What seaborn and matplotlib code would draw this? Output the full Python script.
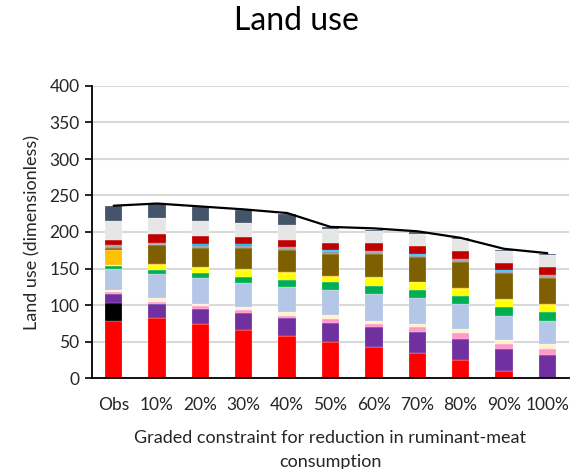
import numpy as np
import seaborn as sns
import matplotlib.pyplot as plt

# Categories (graded constraint)
categories = ['Obs', '10%', '20%', '30%', '40%', '50%', '60%', '70%', '80%', '90%', '100%']

# Stacked components, bottom to top
red = [78, 82.5, 74.5, 66, 58, 50, 42, 34, 25, 9, 0]
black = [24.5, 0, 0, 0, 0, 0, 0, 0, 0, 0, 0]
purple = [12.5, 18.5, 19.5, 22.5, 24, 26, 27.5, 29.5, 29, 30.5, 32]
pink = [2.5, 3, 4.5, 4.5, 3.5, 4.5, 4, 6, 7, 6.5, 7.5]
cream = [3, 5, 3.5, 4.5, 5.5, 5.5, 4.5, 4.5, 6.5, 6, 7]
lightblue = [28.5, 33, 35, 32.5, 33, 34.5, 37.5, 35, 33.5, 33.5, 31.5]
green = [4, 6, 7, 9, 10, 10.5, 10.5, 11.5, 11.5, 11.5, 13]
yellow = [2, 7, 7, 9.5, 10.5, 7.5, 11, 10.5, 9.5, 10, 9]
gold = [21, 1, 1, 1, 1, 1, 1, 1, 1, 1, 1]
brown = [2, 26, 26.5, 28.5, 29.5, 31, 32.5, 33.5, 36, 35.5, 36]
gray = [2.5, 1.5, 2.5, 3, 2.5, 3, 2, 2.5, 2.5, 2.5, 2.5]
cyan = [1.5, 2, 2, 2, 1.5, 1.5, 1.5, 2.5, 1.5, 1.5, 2]
darkred = [6.5, 11.5, 11, 10, 10, 10.5, 11, 10, 11, 10, 10.5]
lightgray = [26.5, 22, 20.5, 20, 20, 18, 16, 17, 16, 16.5, 16]
slate = [21, 19, 19.5, 17, 16, 3, 2, 2, 2, 2, 2.5]

# Total line
totals = [236, 239, 235, 231, 226, 207, 205, 201, 192, 177, 171]

layers = [
    (red, '#FF0000'), (black, '#000000'), (purple, '#7030A0'),
    (pink, '#FF99CC'), (cream, '#FFF2CC'), (lightblue, '#B4C7E7'),
    (green, '#00B050'), (yellow, '#FFFF00'), (gold, '#FFC000'),
    (brown, '#7F6000'), (gray, '#8C9BAA'), (cyan, '#00B0F0'),
    (darkred, '#C00000'), (lightgray, '#E7E6E6'), (slate, '#44546A'),
]

sns.set_theme(style="whitegrid")
plt.rcParams['font.family'] = ['Lato', 'DejaVu Sans']

fig = plt.figure(figsize=(5.7, 4.69), dpi=100)
ax = fig.add_axes([92 / 570, 1 - 378 / 469, (569 - 92) / 570, (378 - 86) / 469])

base = np.zeros(len(categories))
for vals, col in layers:
    sns.barplot(x=categories, y=vals, bottom=base, color=col, saturation=1,
                width=0.4, edgecolor='white', linewidth=0.15, ax=ax)
    base = base + np.array(vals)

sns.lineplot(x=np.arange(len(categories)), y=totals, color='black',
             linewidth=1.6, ax=ax)

ax.set_xlim(-0.5, len(categories) - 0.5)
ax.set_ylim(0, 400)
ax.set_yticks(range(0, 401, 50))
ax.set_xticks(range(len(categories)))
ax.set_xticklabels(categories)
ax.tick_params(axis='both', labelsize=12.5, colors='#262626')
ax.tick_params(axis='y', left=True, length=5, width=1.2, color='black', pad=4)
ax.tick_params(axis='x', bottom=False, pad=8)
ax.grid(axis='x', visible=False)
ax.grid(axis='y', color='#D9D9D9', linewidth=1.5)
ax.set_axisbelow(True)
for s in ['top', 'right']:
    ax.spines[s].set_visible(False)
for s in ['left', 'bottom']:
    ax.spines[s].set_color('black')
    ax.spines[s].set_linewidth(1.3)

ax.set_ylabel('Land use (dimensionless)', fontsize=13, color='#262626', labelpad=6)
ax.set_xlabel('Graded constraint for reduction in ruminant-meat\nconsumption',
              fontsize=13, color='#262626', labelpad=12, linespacing=1.6)
fig.text(0.52, 0.955, 'Land use', ha='center', va='center', fontsize=23, color='black')

fig.savefig('out.png', dpi=100, facecolor='white')
